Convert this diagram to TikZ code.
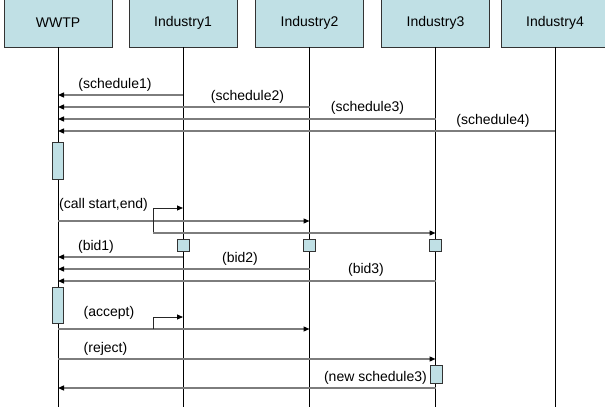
\documentclass[tikz,border=0pt]{standalone}
\usepackage{fontspec}
\setmainfont{Liberation Sans}
\usetikzlibrary{arrows.meta}
\definecolor{boxfill}{RGB}{192,224,229}
\definecolor{msggray}{RGB}{125,125,125}
\begin{document}
\begin{tikzpicture}[x=1pt,y=-1pt,font=\fontsize{14}{16}\selectfont,
  head/.style={draw=black!80,fill=boxfill,minimum width=108pt,minimum height=49pt,inner sep=0pt,line width=0.8pt},
  act/.style={draw=black!80,fill=boxfill,inner sep=0pt,line width=0.8pt},
  life/.style={draw=black,line width=0.8pt},
  tip/.style={-{Triangle[length=6pt,width=5pt,color=black]}},
  msg/.style={draw=msggray,line width=1.3pt,tip},
  fork/.style={draw=black!85,line width=0.8pt},
  lbl/.style={inner sep=0pt}]
\useasboundingbox (0,0) rectangle (605,414);
% heads
\node[head] (W)  at (58,22.5)    {WWTP};
\node[head] (I1) at (183,22.5)   {Industry1};
\node[head] (I2) at (309.5,22.5) {Industry2};
\node[head] (I3) at (435.5,22.5) {Industry3};
\node[head] (I4) at (555,22.5)   {Industry4};
% lifelines
\foreach \n in {W,I1,I2,I3,I4}
  \draw[life] (\n.south) -- (\n.south |- 0,407);
% schedules
\draw[msg] (I1.south |- 0,95)  -- (W.south |- 0,95);
\draw[msg] (I2.south |- 0,107) -- (W.south |- 0,107);
\draw[msg] (I3.south |- 0,119) -- (W.south |- 0,119);
\draw[msg] (I4.south |- 0,131) -- (W.south |- 0,131);
\node[lbl] (l1) at (115,85)   {(schedule1)};
\node[lbl] (l2) at (247.5,97) {(schedule2)};
\node[lbl] (l3) at (367.5,108){(schedule3)};
\node[lbl] (l4) at (493,121)  {(schedule4)};
\node[act,minimum width=11pt,minimum height=37pt] (Wa1) at (57.5,160.5) {};
% call start,end
\node[lbl,anchor=west] (lc) at (59,205) {(call start,end)};
\coordinate (cf) at (153,221);
\draw[msg] (W.south |- 0,221) -- (I2.south |- 0,221);
\draw[fork] (cf |- 0,208) -- (cf |- 0,233);
\draw[fork,tip] (cf |- 0,208) -- (I1.south |- 0,208);
\draw[msg] (cf |- 0,233) -- (I3.south |- 0,233);
\node[act,minimum width=12pt,minimum height=12pt] (a1) at (183,245) {};
\node[act,minimum width=12pt,minimum height=12pt] (a2) at (309.5,245) {};
\node[act,minimum width=12pt,minimum height=12pt] (a3) at (435.5,245) {};
% bids
\draw[msg] (I1.south |- 0,257) -- (W.south |- 0,257);
\draw[msg] (I2.south |- 0,269) -- (W.south |- 0,269);
\draw[msg] (I3.south |- 0,281) -- (W.south |- 0,281);
\node[lbl] (b1) at (96,247)  {(bid1)};
\node[lbl] (b2) at (240,259) {(bid2)};
\node[lbl] (b3) at (366,270) {(bid3)};
\node[act,minimum width=11pt,minimum height=36pt] (Wa2) at (57.5,305) {};
% accept
\node[lbl] (la) at (109,313) {(accept)};
\coordinate (af) at (153,329);
\draw[msg] (W.south |- 0,329) -- (I2.south |- 0,329);
\draw[fork] (af |- 0,317) -- (af);
\draw[fork,tip] (af |- 0,317) -- (I1.south |- 0,317);
% reject
\node[lbl] (lr) at (105.5,349) {(reject)};
\draw[msg] (W.south |- 0,359) -- (I3.south |- 0,359);
\node[act,minimum width=12pt,minimum height=18pt] (a3b) at (436,374) {};
\node[lbl,anchor=east] (ln) at (427,378) {(new schedule3)};
\draw[msg] (I3.south |- 0,388) -- (W.south |- 0,388);
\end{tikzpicture}
\end{document}
